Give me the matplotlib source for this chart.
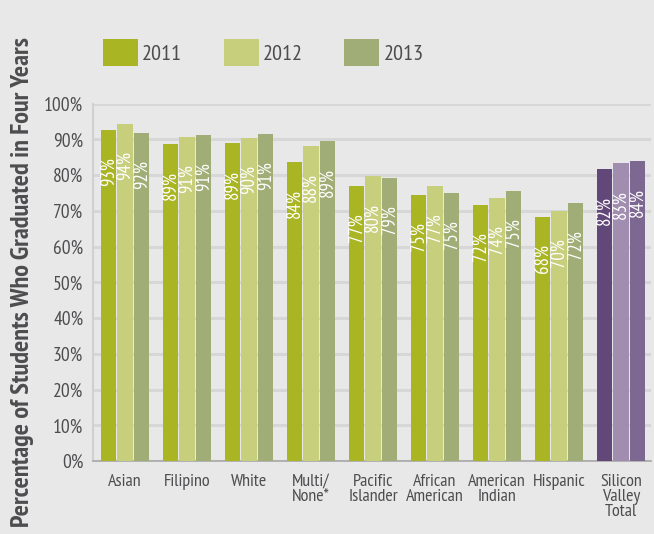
import matplotlib
matplotlib.use("Agg")
import matplotlib.pyplot as plt
import numpy as np
from matplotlib.patches import Patch

plt.rcParams['font.family'] = ['PT Sans Narrow', 'DejaVu Sans']

categories = ["Asian", "Filipino", "White", "Multi/\nNone*", "Pacific\nIslander",
              "African\nAmerican", "American\nIndian", "Hispanic", "Silicon\nValley\nTotal"]
years = ["2011", "2012", "2013"]
v2011 = [92.6, 88.7, 89.0, 83.7, 77.0, 74.4, 71.6, 68.3, 81.7]
v2012 = [94.3, 90.7, 90.4, 88.2, 79.7, 77.0, 73.5, 70.0, 83.4]
v2013 = [91.8, 91.2, 91.5, 89.6, 79.2, 75.0, 75.5, 72.2, 83.9]
labels2011 = ["93%", "89%", "89%", "84%", "77%", "75%", "72%", "68%", "82%"]
labels2012 = ["94%", "91%", "90%", "88%", "80%", "77%", "74%", "70%", "83%"]
labels2013 = ["92%", "91%", "91%", "89%", "79%", "75%", "75%", "72%", "84%"]

green = ["#A9B523", "#C7CF7D", "#A0AD76"]
purple = ["#614879", "#A08DB0", "#7D6892"]
bg = "#E8E8E8"
txt = "#4D4D50"

fig = plt.figure(figsize=(6.54, 5.34), dpi=100, facecolor=bg)
ax = fig.add_axes([93/654, 1 - 461/534, 558/654, (461 - 103.7)/534])
ax.set_facecolor(bg)

x = np.arange(len(categories))
width = 0.243
offs = [-0.265, 0.0, 0.27]
series = [v2011, v2012, v2013]
labs = [labels2011, labels2012, labels2013]
for j in range(3):
    cols = [green[j]] * (len(categories) - 1) + [purple[j]]
    ax.bar(x + offs[j], series[j], width, color=cols, zorder=3)
    for i, (v, l) in enumerate(zip(series[j], labs[j])):
        ax.text(x[i] + offs[j], v - 7.6, l, rotation=90, ha='center', va='top',
                color='white', fontsize=13.5, zorder=4)

ax.set_xlim(-0.516, 8.484)
ax.set_ylim(0, 100)
ax.set_yticks(np.arange(0, 101, 10))
ax.set_yticklabels([f"{v}%" for v in range(0, 101, 10)], fontsize=14, color=txt)
ax.set_xticks(x)
ax.set_xticklabels(categories, fontsize=13, color=txt, linespacing=0.95, va='top')
ax.tick_params(axis='both', length=0)
ax.tick_params(axis='y', pad=7)
ax.tick_params(axis='x', pad=9)
ax.grid(axis='y', color='#D7D7D7', linewidth=2.2, zorder=0)
ax.set_axisbelow(True)
for s in ['top', 'right']:
    ax.spines[s].set_visible(False)
ax.spines['left'].set_color('#D0D0D0')
ax.spines['left'].set_linewidth(1.5)
ax.spines['bottom'].set_color('#A8A8A8')
ax.spines['bottom'].set_linewidth(1.2)

ax.set_ylabel("Percentage of Students Who Graduated in Four Years", fontsize=19,
              fontweight='bold', color=txt)
ax.yaxis.set_label_coords(-0.106, 0.5)

handles = [Patch(facecolor=green[j], edgecolor='none', label=years[j]) for j in range(3)]
fig.legend(handles=handles, loc='upper left', bbox_to_anchor=(94/654, 1 - 30/534),
           ncol=3, frameon=False, fontsize=16, handlelength=1.58, handleheight=1.53,
           handletextpad=0.18, columnspacing=1.87, labelcolor=txt, borderaxespad=0)

fig.savefig("out.png", dpi=100, facecolor=bg)
